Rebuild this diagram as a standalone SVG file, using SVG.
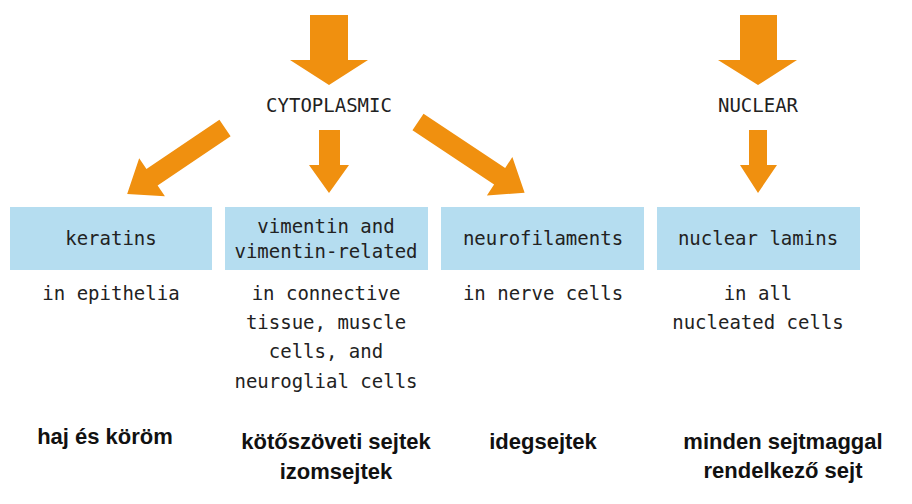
<svg xmlns="http://www.w3.org/2000/svg" width="912" height="504" viewBox="0 0 912 504">
<style>
.box{fill:#b5ddf0}
.arr{fill:#f0900f}
.m{font-family:"DejaVu Sans Mono","Liberation Mono",monospace;font-size:19px;fill:#222;text-anchor:middle}
.h{font-family:"Liberation Sans",Arial,sans-serif;font-weight:bold;font-size:22px;fill:#111;text-anchor:middle}
</style>
<rect width="912" height="504" fill="#fff"/>
<g id="connectors">
<polygon class="arr" points="310,15 348,15 348,60 368,60 329,85 290,60 310,60"/>
<polygon class="arr" points="740,15 777,15 777,60 797,60 758,85 718,60 740,60"/>
<polygon class="arr" points="319,130 340,130 340,165 349,165 329,193 309,165 319,165"/>
<polygon class="arr" points="749,130 767,130 767,165 777,165 758,193 740,165 749,165"/>
<polygon class="arr" transform="translate(225,128) rotate(146)" points="0,-10 88,-10 88,-23 118,0 88,23 88,10 0,10"/>
<polygon class="arr" transform="translate(418,122) rotate(33.6)" points="0,-10 98,-10 98,-23 128,0 98,23 98,10 0,10"/>
</g>
<g id="cytoplasmic"><text class="m" x="329" y="112">CYTOPLASMIC</text></g>
<g id="nuclear"><text class="m" x="758" y="112">NUCLEAR</text></g>
<g id="keratins">
<rect class="box" x="10" y="207" width="202" height="63"/>
<text class="m" x="111" y="245">keratins</text>
<text class="m" x="111" y="300">in epithelia</text>
</g>
<g id="vimentin">
<rect class="box" x="225" y="207" width="203" height="63"/>
<text class="m" x="326" y="233">vimentin and</text>
<text class="m" x="326" y="258">vimentin-related</text>
<text class="m" x="326" y="300">in connective</text>
<text class="m" x="326" y="329">tissue, muscle</text>
<text class="m" x="326" y="358">cells, and</text>
<text class="m" x="326" y="388">neuroglial cells</text>
</g>
<g id="neurofilaments">
<rect class="box" x="441" y="207" width="203" height="63"/>
<text class="m" x="543" y="245">neurofilaments</text>
<text class="m" x="543" y="300">in nerve cells</text>
</g>
<g id="lamins">
<rect class="box" x="657" y="207" width="203" height="63"/>
<text class="m" x="758" y="245">nuclear lamins</text>
<text class="m" x="758" y="300">in all</text>
<text class="m" x="758" y="329">nucleated cells</text>
</g>
<g id="hungarian">
<text class="h" x="105" y="444">haj és köröm</text>
<text class="h" x="336" y="449">kötőszöveti sejtek</text>
<text class="h" x="336" y="479">izomsejtek</text>
<text class="h" x="543" y="449">idegsejtek</text>
<text class="h" x="783" y="449">minden sejtmaggal</text>
<text class="h" x="783" y="478">rendelkező sejt</text>
</g>
</svg>
